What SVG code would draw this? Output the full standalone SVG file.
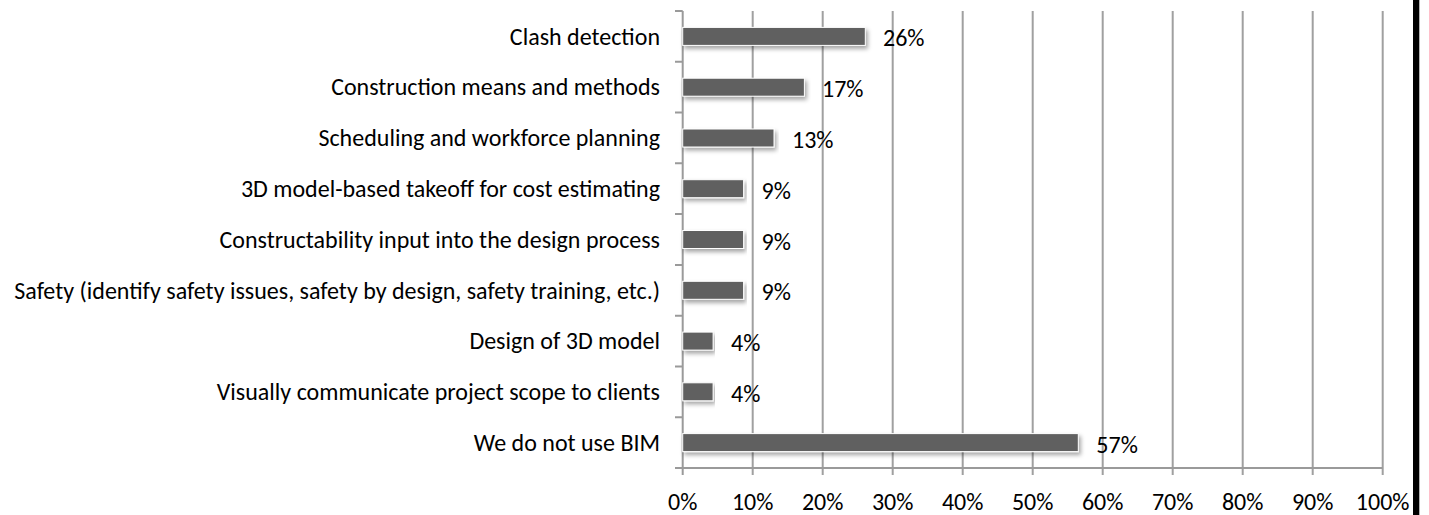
<svg xmlns="http://www.w3.org/2000/svg" width="1429" height="515" viewBox="0 0 1429 515">
<defs>
<style>
.grid{stroke:#a0a0a0;stroke-width:2;fill:none}
.axis{stroke:#9a9a9a;stroke-width:2;fill:none}
.bar{fill:#606060;stroke:#ffffff;stroke-width:1;filter:url(#sh)}
.cat{font-family:Carlito,Calibri,"Liberation Sans",sans-serif;font-size:24px;fill:#000;text-anchor:end}
.val{font-family:Carlito,Calibri,"Liberation Sans",sans-serif;font-size:24px;fill:#000}
.tick{font-family:Carlito,Calibri,"Liberation Sans",sans-serif;font-size:24px;fill:#000;text-anchor:middle}
</style>
<filter id="sh" x="-5%" y="-50%" width="110%" height="250%">
<feDropShadow dx="2" dy="3" stdDeviation="2" flood-color="#000" flood-opacity="0.35"/>
</filter>
</defs>
<rect width="1429" height="515" fill="#fff"/>
<g id="gridlines">
<path class="grid" d="M752.7 11V475M822.7 11V475M892.7 11V475M962.7 11V475M1032.7 11V475M1102.7 11V475M1172.7 11V475M1242.7 11V475M1312.7 11V475M1382.7 11V475"/>
</g>
<g id="axes">
<path class="axis" d="M682.7 11V475M675 468H1382.7"/>
<path class="axis" d="M675 11H682.7M675 61.8H682.7M675 112.6H682.7M675 163.3H682.7M675 214.1H682.7M675 264.9H682.7M675 315.7H682.7M675 366.4H682.7M675 417.2H682.7"/>
</g>
<g id="bars">
<rect class="bar" x="682.7" y="27.4" width="182.6" height="18"/>
<rect class="bar" x="682.7" y="78.2" width="121.7" height="18"/>
<rect class="bar" x="682.7" y="129" width="91.3" height="18"/>
<rect class="bar" x="682.7" y="179.7" width="60.9" height="18"/>
<rect class="bar" x="682.7" y="230.5" width="60.9" height="18"/>
<rect class="bar" x="682.7" y="281.3" width="60.9" height="18"/>
<rect class="bar" x="682.7" y="332.1" width="30.4" height="18"/>
<rect class="bar" x="682.7" y="382.8" width="30.4" height="18"/>
<rect class="bar" x="682.7" y="433.6" width="395.6" height="18"/>
</g>
<g id="categories">
<text class="cat" x="660" y="44.6">Clash detection</text>
<text class="cat" x="660" y="95.4">Construction means and methods</text>
<text class="cat" x="660" y="146.2">Scheduling and workforce planning</text>
<text class="cat" x="660" y="196.9">3D model-based takeoff for cost estimating</text>
<text class="cat" x="660" y="247.7">Constructability input into the design process</text>
<text class="cat" x="660" y="298.5">Safety (identify safety issues, safety by design, safety training, etc.)</text>
<text class="cat" x="660" y="349.3">Design of 3D model</text>
<text class="cat" x="660" y="400">Visually communicate project scope to clients</text>
<text class="cat" x="660" y="450.8">We do not use BIM</text>
</g>
<g id="values">
<text class="val" x="883" y="46.4">26%</text>
<text class="val" x="822" y="97.2">17%</text>
<text class="val" x="792" y="148">13%</text>
<text class="val" x="761.6" y="198.7">9%</text>
<text class="val" x="761.6" y="249.5">9%</text>
<text class="val" x="761.6" y="300.3">9%</text>
<text class="val" x="731" y="351.1">4%</text>
<text class="val" x="731" y="401.8">4%</text>
<text class="val" x="1096.3" y="452.6">57%</text>
</g>
<g id="xlabels">
<text class="tick" x="682.7" y="510">0%</text>
<text class="tick" x="752.7" y="510">10%</text>
<text class="tick" x="822.7" y="510">20%</text>
<text class="tick" x="892.7" y="510">30%</text>
<text class="tick" x="962.7" y="510">40%</text>
<text class="tick" x="1032.7" y="510">50%</text>
<text class="tick" x="1102.7" y="510">60%</text>
<text class="tick" x="1172.7" y="510">70%</text>
<text class="tick" x="1242.7" y="510">80%</text>
<text class="tick" x="1312.7" y="510">90%</text>
<text class="tick" x="1382.7" y="510">100%</text>
</g>
<rect x="1413" y="0" width="6.3" height="515" fill="#000"/>
</svg>
